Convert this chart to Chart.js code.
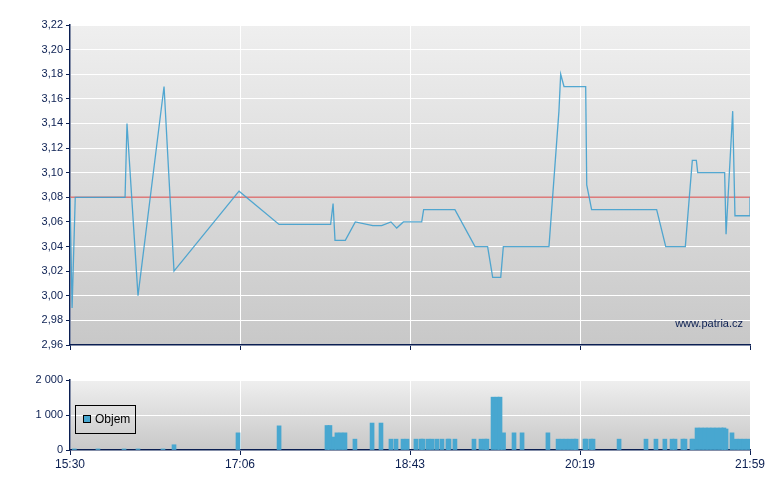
<!DOCTYPE html>
<html>
<head>
<meta charset="utf-8">
<script src="https://cdn.jsdelivr.net/npm/chart.js@4/dist/chart.umd.min.js"></script>
<style>
  html, body { margin: 0; padding: 0; background: #fff; }
  #wrap { position: relative; width: 780px; height: 490px; }
  #priceCanvas { position: absolute; left: 0; top: 0; }
  #volCanvas { position: absolute; left: 0; top: 360px; }
</style>
</head>
<body>
<div id="wrap">
  <canvas id="priceCanvas" width="780" height="360"></canvas>
  <canvas id="volCanvas" width="780" height="130"></canvas>
</div>
<script>
// time axis: minutes after 15:30, session ends 21:59
var sessionLength = 389;
var timeLabels = ["15:30", "17:06", "18:43", "20:19", "21:59"];

// price ticks (CZK)
var priceTicks = [2.96, 2.98, 3.00, 3.02, 3.04, 3.06, 3.08, 3.10, 3.12, 3.14, 3.16, 3.18, 3.20, 3.22];
var prevClose = 3.08;

// last trade price
var priceTimes = [0, 1.2, 3.0, 31.5, 32.6, 38.9, 53.8, 59.5, 96.7, 119.6,
  149.1, 150.5, 151.6, 157.5, 163.2, 173.2, 178.3, 183.6, 186.9, 190.7,
  201.2, 202.3, 220.2, 231.7, 238.9, 241.8, 246.4, 247.9, 274.0, 279.7,
  280.7, 282.6, 295.0, 295.6, 298.4, 335.6, 340.8, 352.0, 356.0, 358.3,
  359.1, 374.5, 375.3, 379.1, 380.4, 389, 389];
var priceValues = [3.08, 2.99, 3.08, 3.08, 3.14, 3.00, 3.17, 3.02, 3.085, 3.058,
  3.058, 3.075, 3.045, 3.045, 3.06, 3.057, 3.057, 3.06, 3.055, 3.06,
  3.06, 3.07, 3.07, 3.04, 3.04, 3.015, 3.015, 3.04, 3.04, 3.15,
  3.18, 3.17, 3.17, 3.09, 3.07, 3.07, 3.04, 3.04, 3.11, 3.11,
  3.10, 3.10, 3.05, 3.15, 3.065, 3.065, 3.08];

// volume (Objem)
var volTicks = [0, 1000, 2000];
var volTimes = [2.5, 16.0, 30.9, 38.9, 53.2, 59.5, 96.1, 119.6, 147.0, 148.7,
  151.0, 152.7, 155.0, 157.3, 163.0, 172.8, 177.9, 183.6, 186.5, 190.5,
  192.8, 197.9, 200.8, 201.9, 204.8, 207.1, 209.9, 212.8, 216.2, 216.8,
  220.2, 231.1, 235.1, 237.4, 238.5, 242.0, 244.3, 246.0, 248.0, 254.0,
  258.6, 273.4, 279.2, 281.5, 283.7, 286.0, 288.3, 289.5, 294.6, 295.2,
  298.0, 299.2, 314.1, 329.5, 335.2, 340.3, 344.4, 346.1, 350.6, 351.8,
  355.8, 356.4, 358.7, 361.0, 363.3, 365.5, 367.8, 370.1, 372.4, 374.1,
  375.3, 378.7, 381.1, 383.3, 385.6, 387.9];
var volValues = [30, 30, 30, 30, 30, 150, 490, 690, 700, 700,
  370, 490, 490, 490, 310, 770, 770, 310, 310, 310,
  310, 310, 310, 310, 310, 310, 310, 310, 310, 310,
  310, 310, 310, 310, 310, 1510, 1510, 1510, 490, 490,
  490, 490, 310, 310, 310, 310, 310, 310, 310, 310,
  310, 310, 310, 310, 310, 310, 310, 310, 310, 310,
  310, 310, 630, 630, 630, 630, 630, 630, 630, 630,
  600, 490, 310, 310, 310, 310];

var NAVY = "#0b1f52";
var FONT = { family: "'Liberation Sans', Arial, sans-serif", size: 11 };
var TIME_FONT = { family: FONT.family, size: 12 };

function toPoints(xs, ys) {
  var out = [];
  for (var i = 0; i < xs.length; i++) out.push({ x: xs[i], y: ys[i] });
  return out;
}

function timeTickValues() {
  var t = [];
  for (var i = 0; i < timeLabels.length; i++) {
    t.push({ value: i * sessionLength / (timeLabels.length - 1) });
  }
  return t;
}

function listTicks(list) {
  return function (scale) {
    scale.ticks = list.map(function (v) { return { value: v }; });
  };
}

// grey gradient behind each panel
var panelBg = {
  id: "panelBg",
  beforeDraw: function (chart) {
    var a = chart.chartArea, ctx = chart.ctx;
    var g = ctx.createLinearGradient(0, a.top, 0, a.bottom);
    g.addColorStop(0, "#efefef");
    g.addColorStop(1, "#c8c8c8");
    ctx.save();
    ctx.fillStyle = g;
    ctx.fillRect(a.left, a.top, a.right - a.left, a.bottom - a.top);
    ctx.restore();
  }
};

var watermark = {
  id: "watermark",
  afterDraw: function (chart) {
    var a = chart.chartArea, ctx = chart.ctx;
    ctx.save();
    ctx.font = "11px " + FONT.family;
    ctx.fillStyle = NAVY;
    ctx.textAlign = "right";
    ctx.textBaseline = "middle";
    ctx.fillText("www.patria.cz", a.right - 7, a.bottom - 21);
    ctx.restore();
  }
};

var volLegend = {
  id: "volLegend",
  afterDraw: function (chart) {
    var a = chart.chartArea, ctx = chart.ctx;
    ctx.save();
    ctx.strokeStyle = "#000";
    ctx.lineWidth = 1;
    ctx.strokeRect(a.left + 5.5, a.top + 25.5, 60, 28);
    ctx.fillStyle = "#48a7d0";
    ctx.fillRect(a.left + 13.5, a.top + 35.5, 7, 7);
    ctx.strokeRect(a.left + 13.5, a.top + 35.5, 7, 7);
    ctx.font = "12px " + FONT.family;
    ctx.fillStyle = "#000";
    ctx.textBaseline = "middle";
    ctx.fillText("Objem", a.left + 25, a.top + 40);
    ctx.restore();
  }
};

function timeAxis(showLabels, height) {
  return {
    type: "linear",
    min: 0,
    max: sessionLength,
    offset: false,
    afterBuildTicks: function (scale) { scale.ticks = timeTickValues(); },
    afterFit: function (scale) { scale.height = height; },
    ticks: {
      color: showLabels ? NAVY : "rgba(0,0,0,0)",
      font: TIME_FONT,
      padding: 2,
      maxRotation: 0,
      autoSkip: false,
      callback: function (v, i) { return timeLabels[i]; }
    },
    grid: { color: "#ffffff", lineWidth: 1, tickColor: NAVY, tickLength: 5, offset: false },
    border: { color: NAVY, width: 1.5 }
  };
}

new Chart(document.getElementById("priceCanvas"), {
  type: "line",
  data: {
    datasets: [
      {
        label: "Cena",
        data: toPoints(priceTimes, priceValues),
        borderColor: "rgba(64,160,206,0.9)",
        borderWidth: 1.3,
        pointRadius: 0,
        tension: 0,
        order: 0
      },
      {
        label: "Předchozí závěr",
        data: [{ x: 0, y: prevClose }, { x: sessionLength, y: prevClose }],
        borderColor: "rgba(214,90,90,0.8)",
        borderWidth: 1.5,
        pointRadius: 0,
        order: 1
      }
    ]
  },
  options: {
    responsive: false,
    animation: false,
    layout: { padding: { top: 25, right: 30, left: 0, bottom: 0 } },
    plugins: { legend: { display: false }, tooltip: { enabled: false } },
    scales: {
      x: timeAxis(false, 15),
      y: {
        min: 2.96,
        max: 3.22,
        afterBuildTicks: listTicks(priceTicks),
        afterFit: function (scale) { scale.width = 70; },
        ticks: {
          color: NAVY,
          font: FONT,
          padding: 3,
          callback: function (v) { return v.toFixed(2).replace(".", ","); }
        },
        grid: { color: "#ffffff", lineWidth: 1, tickColor: NAVY, tickLength: 4 },
        border: { color: NAVY, width: 1.5 }
      }
    }
  },
  plugins: [panelBg, watermark]
});

new Chart(document.getElementById("volCanvas"), {
  type: "bar",
  data: {
    datasets: [{
      label: "Objem",
      data: toPoints(volTimes, volValues),
      backgroundColor: "#48a7d0",
      barThickness: 4,
      borderWidth: 0
    }]
  },
  options: {
    responsive: false,
    animation: false,
    layout: { padding: { top: 20, right: 30, left: 0, bottom: 0 } },
    plugins: { legend: { display: false }, tooltip: { enabled: false } },
    scales: {
      x: timeAxis(true, 40),
      y: {
        min: 0,
        max: 2000,
        afterBuildTicks: listTicks(volTicks),
        afterFit: function (scale) { scale.width = 70; },
        ticks: {
          color: NAVY,
          font: FONT,
          padding: 3,
          callback: function (v) { return v === 0 ? "0" : (v / 1000) + " 000"; }
        },
        grid: { color: "#ffffff", lineWidth: 1, tickColor: NAVY, tickLength: 4 },
        border: { color: NAVY, width: 1.5 }
      }
    }
  },
  plugins: [panelBg, volLegend]
});
</script>
</body>
</html>
